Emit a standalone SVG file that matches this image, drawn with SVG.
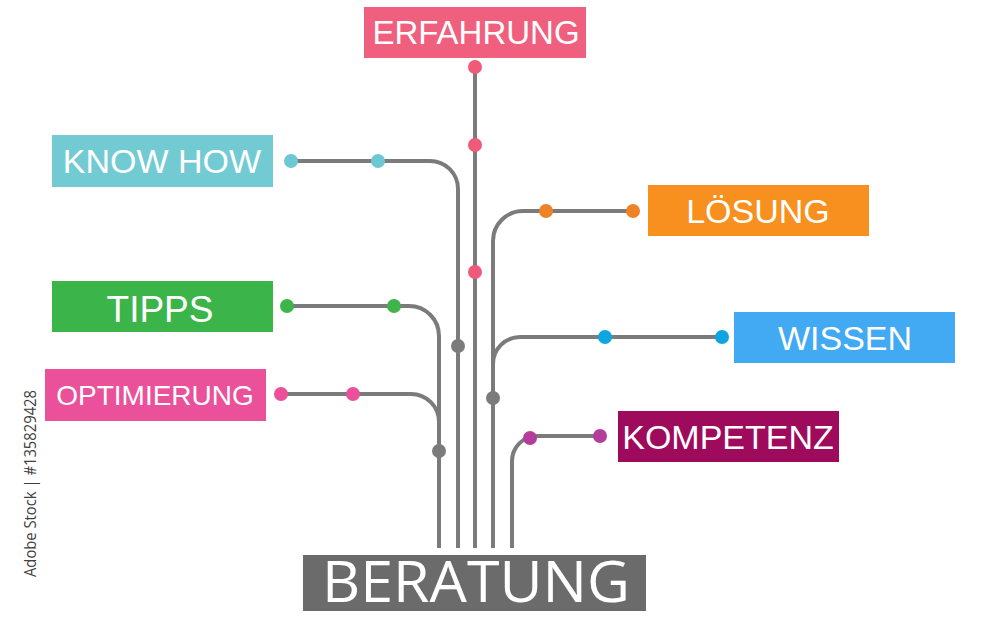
<svg xmlns="http://www.w3.org/2000/svg" width="1000" height="625" viewBox="0 0 1000 625">
<style>
.lbl{font-family:"Liberation Sans",Arial,sans-serif;fill:#ffffff;text-anchor:middle}
.wire{fill:none;stroke:#7b7b7b;stroke-width:4}
.gd{fill:#7b7b7b}
</style>
<rect width="1000" height="625" fill="#ffffff"/>
<g id="connectors">
<path class="wire" d="M287,306 H409 A30,30 0 0 1 439,336 V548"/>
<path class="wire" d="M281,394 H411 A28,28 0 0 1 439,422 V430"/>
<path class="wire" d="M291,161 H430 A28,28 0 0 1 458,189 V548"/>
<path class="wire" d="M475,67 V548"/>
<path class="wire" d="M633,211 H523 A30,30 0 0 0 493,241 V548"/>
<path class="wire" d="M722,337 H520 A27,27 0 0 0 493,364 V370"/>
<path class="wire" d="M600,436 H537 A25,25 0 0 0 512,461 V548"/>
<circle class="gd" cx="458" cy="346" r="7"/>
<circle class="gd" cx="439" cy="451" r="7"/>
<circle class="gd" cx="493" cy="398" r="7"/>
</g>
<g id="erfahrung">
<rect x="364" y="7" width="222" height="51" fill="#f0607e"/>
<text class="lbl" x="476" y="44" font-size="33">ERFAHRUNG</text>
<circle cx="475" cy="67" r="7" fill="#ef5a78"/>
<circle cx="475" cy="145" r="7" fill="#ef5a78"/>
<circle cx="475" cy="272" r="7" fill="#ef5a78"/>
</g>
<g id="knowhow">
<rect x="52" y="135" width="221" height="52" fill="#72cbd3"/>
<text class="lbl" x="162" y="173" font-size="34">KNOW HOW</text>
<circle cx="291" cy="161" r="7" fill="#6ec8d2"/>
<circle cx="378" cy="161" r="7" fill="#6ec8d2"/>
</g>
<g id="tipps">
<rect x="52" y="281" width="221" height="51" fill="#3bb54a"/>
<text class="lbl" x="160" y="322" font-size="37">TIPPS</text>
<circle cx="287" cy="306" r="7" fill="#3db54a"/>
<circle cx="394" cy="306" r="7" fill="#3db54a"/>
</g>
<g id="optimierung">
<rect x="45" y="369" width="221" height="52" fill="#ea519a"/>
<text class="lbl" x="155" y="405" font-size="28">OPTIMIERUNG</text>
<circle cx="281" cy="394" r="7" fill="#ea519a"/>
<circle cx="353" cy="394" r="7" fill="#ea519a"/>
</g>
<g id="loesung">
<rect x="648" y="185" width="221" height="51" fill="#f7901e"/>
<text class="lbl" x="758" y="223" font-size="34">LÖSUNG</text>
<circle cx="546" cy="211" r="7" fill="#f08226"/>
<circle cx="633" cy="211" r="7" fill="#f08226"/>
</g>
<g id="wissen">
<rect x="734" y="312" width="221" height="51" fill="#42a9f3"/>
<text class="lbl" x="845" y="350" font-size="34">WISSEN</text>
<circle cx="605" cy="337" r="7" fill="#0ea5e0"/>
<circle cx="722" cy="337" r="7" fill="#0ea5e0"/>
</g>
<g id="kompetenz">
<rect x="618" y="411" width="221" height="51" fill="#9e0b5c"/>
<text class="lbl" x="728" y="449" font-size="34">KOMPETENZ</text>
<circle cx="530" cy="438" r="7" fill="#b43d9c"/>
<circle cx="600" cy="436" r="7" fill="#b43d9c"/>
</g>
<g id="beratung">
<rect x="303" y="555" width="343" height="56" fill="#6b6b6b"/>
<text x="476" y="602" font-family="'Open Sans','DejaVu Sans',sans-serif" font-size="57" fill="#ffffff" text-anchor="middle" textLength="308" lengthAdjust="spacingAndGlyphs">BERATUNG</text>
</g>
<text transform="translate(36,577) rotate(-90)" font-family="'Open Sans','DejaVu Sans',sans-serif" font-size="17" fill="#3f3f3f" textLength="187" lengthAdjust="spacingAndGlyphs">Adobe Stock | #135829428</text>
</svg>
